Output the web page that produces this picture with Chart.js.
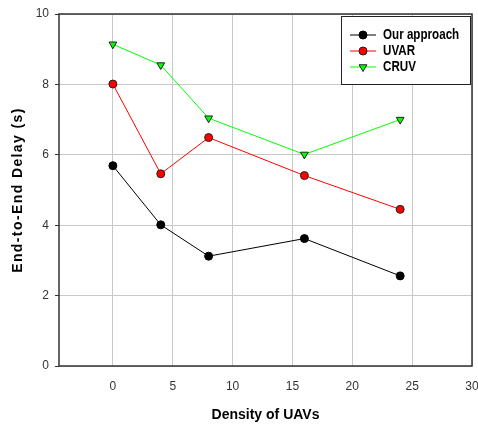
<!DOCTYPE html>
<html>
<head>
<meta charset="utf-8">
<script src="https://cdn.jsdelivr.net/npm/chart.js@4/dist/chart.umd.min.js"></script>
<style>
  html, body { margin: 0; padding: 0; background: #fff; }
  #wrap { width: 478px; height: 428px; }
</style>
</head>
<body>
<div id="wrap"><canvas id="c" width="478" height="428"></canvas></div>
<script>
// Values
const density = [0, 4, 8, 16, 24];
const ourApproach = [5.69, 4.01, 3.12, 3.62, 2.56];
const uvar = [8.01, 5.46, 6.49, 5.41, 4.45];
const cruv = [9.14, 8.55, 7.04, 6.01, 7.0];
const xTicks = [0, 5, 10, 15, 20, 25, 30];
const yTicks = [0, 2, 4, 6, 8, 10];
const seriesNames = ['Our approach', 'UVAR', 'CRUV'];
const yTitle = 'End-to-End Delay (s)';

const FONT = 'Liberation Sans, Arial, sans-serif';

function pts(ys) {
  return density.map((x, i) => ({ x: x, y: ys[i] }));
}

// frame round the plot area (top and right sides too)
const framePlugin = {
  id: 'frame',
  beforeDatasetsDraw(chart) {
    const a = chart.chartArea, ctx = chart.ctx;
    ctx.save();
    ctx.strokeStyle = '#333';
    ctx.lineWidth = 1.5;
    ctx.strokeRect(a.left, a.top, a.right - a.left, a.bottom - a.top);
    ctx.restore();
  }
};

// y title is spaced out in the original, so draw it by hand
const yTitlePlugin = {
  id: 'yTitle',
  afterDraw(chart) {
    const a = chart.chartArea, ctx = chart.ctx;
    ctx.save();
    ctx.translate(18, (a.top + a.bottom) / 2);
    ctx.rotate(-Math.PI / 2);
    ctx.font = 'bold 14px ' + FONT;
    if ('letterSpacing' in ctx) ctx.letterSpacing = '1.4px';
    ctx.fillStyle = '#000';
    ctx.textAlign = 'center';
    ctx.textBaseline = 'middle';
    ctx.fillText(yTitle, 0, 0);
    ctx.restore();
  }
};

// boxed legend in the upper right corner, line + marker per series
const boxLegend = {
  id: 'boxLegend',
  afterDraw(chart) {
    const ctx = chart.ctx;
    const a = chart.chartArea;
    const bx = a.right - 131, by = a.top + 2, bw = 129, bh = 68;
    ctx.save();
    ctx.fillStyle = '#fff';
    ctx.fillRect(bx, by, bw, bh);
    ctx.strokeStyle = '#222';
    ctx.lineWidth = 1;
    ctx.strokeRect(bx + 0.5, by + 0.5, bw, bh);
    ctx.textBaseline = 'middle';
    chart.data.datasets.forEach((ds, i) => {
      const y = by + 19 + i * 16;
      const x0 = bx + 9, x1 = bx + 35;
      ctx.strokeStyle = ds.borderColor;
      ctx.lineWidth = 1;
      ctx.beginPath();
      ctx.moveTo(x0, y);
      ctx.lineTo(x1, y);
      ctx.stroke();
      ctx.fillStyle = ds.pointBackgroundColor;
      ctx.strokeStyle = ds.pointBorderColor;
      ctx.lineWidth = ds.pointBorderWidth;
      if (Chart.helpers && Chart.helpers.drawPoint) {
        Chart.helpers.drawPoint(ctx, {
          pointStyle: ds.pointStyle,
          rotation: ds.pointRotation || 0,
          radius: ds.pointRadius,
          borderWidth: ds.pointBorderWidth
        }, (x0 + x1) / 2, y);
      } else {
        ctx.beginPath();
        ctx.arc((x0 + x1) / 2, y, ds.pointRadius, 0, Math.PI * 2);
        ctx.fill();
        ctx.stroke();
      }
      // condensed bold label
      ctx.save();
      ctx.translate(bx + 42, y);
      ctx.scale(0.83, 1);
      ctx.font = 'bold 14px ' + FONT;
      ctx.fillStyle = '#000';
      ctx.fillText(ds.label, 0, 0);
      ctx.restore();
    });
    ctx.restore();
  }
};

new Chart(document.getElementById('c'), {
  type: 'scatter',
  data: {
    datasets: [
      {
        label: seriesNames[0],
        data: pts(ourApproach),
        showLine: true,
        borderColor: '#000',
        borderWidth: 1,
        pointStyle: 'circle',
        pointRadius: 4,
        pointBackgroundColor: '#000',
        pointBorderColor: '#000',
        pointBorderWidth: 1
      },
      {
        label: seriesNames[1],
        data: pts(uvar),
        showLine: true,
        borderColor: '#ff0000',
        borderWidth: 1,
        pointStyle: 'circle',
        pointRadius: 4,
        pointBackgroundColor: '#ff0000',
        pointBorderColor: '#222',
        pointBorderWidth: 1
      },
      {
        label: seriesNames[2],
        data: pts(cruv),
        showLine: true,
        borderColor: '#00ff00',
        borderWidth: 1,
        pointStyle: 'triangle',
        pointRotation: 180,
        pointRadius: 4.5,
        pointBackgroundColor: '#00ff00',
        pointBorderColor: '#222',
        pointBorderWidth: 1
      }
    ]
  },
  options: {
    responsive: false,
    animation: false,
    layout: { padding: { top: 14, right: 6, left: 0, bottom: 0 } },
    plugins: {
      legend: { display: false },
      tooltip: { enabled: false }
    },
    scales: {
      x: {
        type: 'linear',
        min: -4.5,
        max: 30,
        afterBuildTicks: s => { s.ticks = xTicks.map(v => ({ value: v })); },
        afterFit: s => { s.height = 62; s.paddingRight = 6; },
        border: { display: false },
        grid: { color: '#c8c8c8', lineWidth: 1, drawTicks: false },
        ticks: { padding: 13, color: '#333', font: { family: FONT, size: 12 } },
        title: {
          display: true,
          text: 'Density of UAVs',
          color: '#000',
          font: { family: FONT, size: 14, weight: 'bold' },
          padding: { top: 0, bottom: 4 }
        }
      },
      y: {
        type: 'linear',
        min: 0,
        max: 10,
        afterBuildTicks: s => { s.ticks = yTicks.map(v => ({ value: v })); },
        afterFit: s => { s.width = 59; },
        border: { display: false },
        grid: { color: '#c8c8c8', lineWidth: 1, tickLength: 4, tickColor: '#333' },
        ticks: { padding: 6, color: '#333', font: { family: FONT, size: 12 } },
        title: { display: false }
      }
    }
  },
  plugins: [framePlugin, yTitlePlugin, boxLegend]
});
</script>
</body>
</html>
